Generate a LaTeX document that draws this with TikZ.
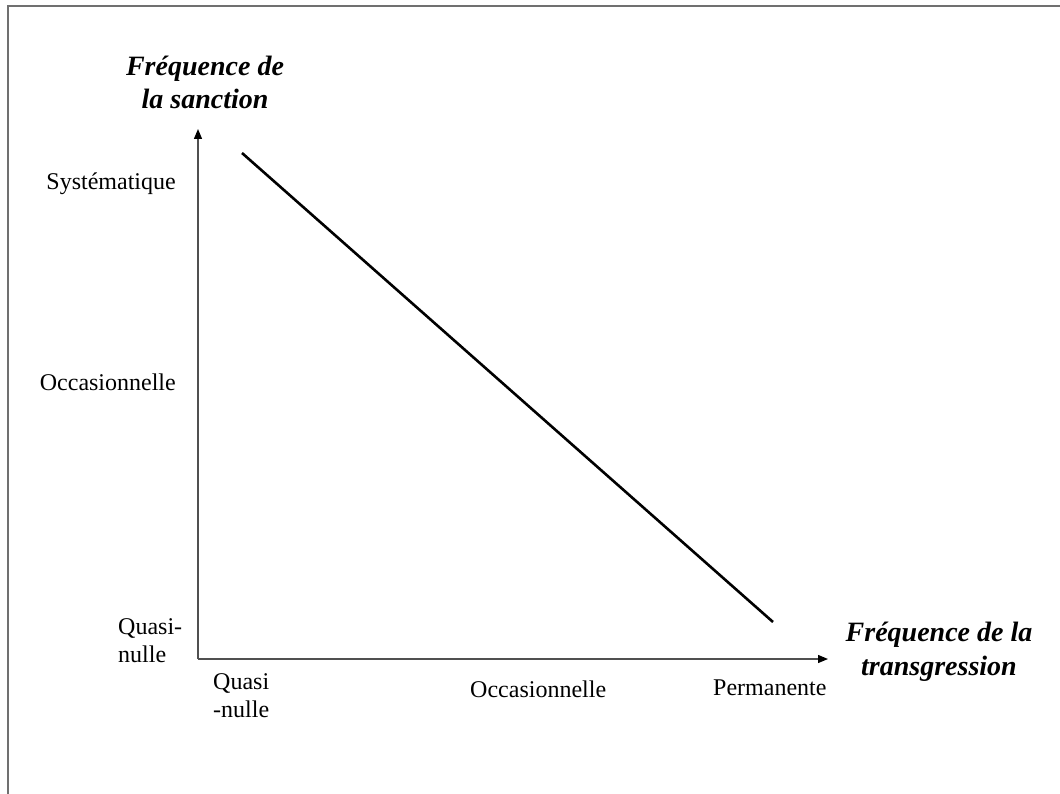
\documentclass[tikz,border=0pt]{standalone}
\usepackage{fontspec}
\setmainfont{Liberation Serif}
\usetikzlibrary{arrows.meta}
\definecolor{framegray}{HTML}{707070}
\definecolor{axisgray}{HTML}{505050}
\tikzset{
  lbl/.style={inner sep=0pt, font=\fontsize{24}{28}\selectfont},
  title/.style={inner sep=0pt, align=center, font=\fontsize{28}{33.5}\selectfont\bfseries\itshape},
  axis/.style={draw=axisgray, line width=1.3pt, -{Triangle[length=10pt,width=8pt,color=black]}},
}
\begin{document}
\begin{tikzpicture}[x=1pt,y=-1pt]
\useasboundingbox (0,0) rectangle (1060,794);
\draw[framegray, line width=1.6pt] (8,794) -- (8,6) -- (1060,6);
\coordinate (O) at (198,659);
\coordinate (Ytop) at (198,129);
\coordinate (Xend) at (828,659);
\draw[axis] (O) -- (Ytop);
\draw[axis] (O) -- (Xend);
\coordinate (d1) at (242,153);
\coordinate (d2) at (773,622);
\draw[black, line width=2.6pt] (d1) -- (d2);
\node[title, anchor=base] (ytitle) at (205,109) {Fréquence de\\la sanction};
\node[title, anchor=base] (xtitle) at (939,675) {Fréquence de la\\transgression};
\node[lbl, anchor=base east] (ysys) at (176,190) {Systématique};
\node[lbl, anchor=base east] (yocc) at (176,390) {Occasionnelle};
\node[lbl, anchor=base west, align=left] (yqn) at (118,662) {Quasi-\\nulle};
\node[lbl, anchor=base west, align=left] (xqn) at (213,717) {Quasi\\-nulle};
\node[lbl, anchor=base west] (xocc) at (470,697) {Occasionnelle};
\node[lbl, anchor=base west] (xperm) at (713,695) {Permanente};
\end{tikzpicture}
\end{document}
